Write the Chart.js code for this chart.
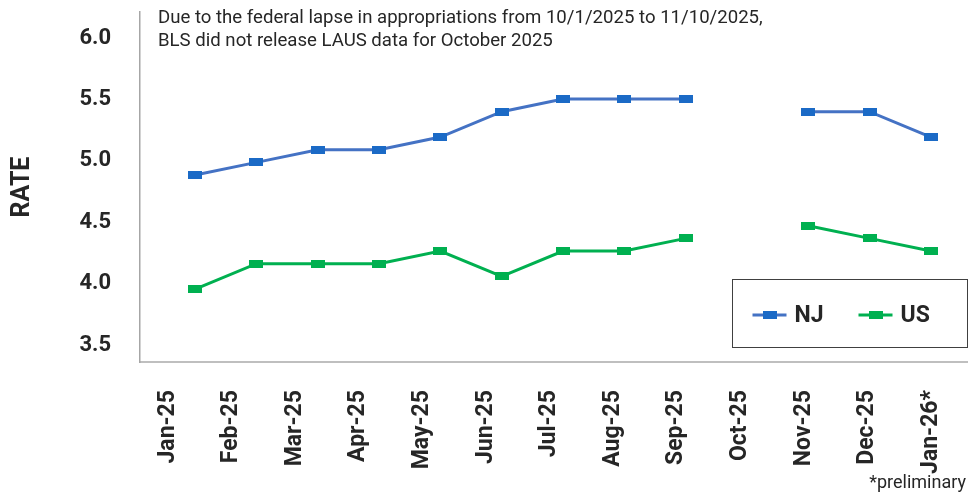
<!DOCTYPE html>
<html>
<head>
<meta charset="utf-8">
<script src="https://cdn.jsdelivr.net/npm/chart.js@4/dist/chart.umd.min.js"></script>
<style>
  body { margin: 0; background: #fff; }
  #wrap { position: relative; width: 968px; height: 495px; font-family: Roboto, sans-serif; color: #262626; }
  #note { position: absolute; left: 158px; top: 6px; font-size: 18.6px; line-height: 23px; }
  #prelim { position: absolute; right: 2px; top: 471px; font-size: 18px; }
</style>
</head>
<body>
<div id="wrap">
  <canvas id="rateChart" width="968" height="495"></canvas>
  <div id="note">Due to the federal lapse in appropriations from 10/1/2025 to 11/10/2025,<br>BLS did not release LAUS data for October 2025</div>
  <div id="prelim">*preliminary</div>
</div>
<script>
// Monthly unemployment rate, NJ vs US (Oct-25 not released)
const months = ['Jan-25', 'Feb-25', 'Mar-25', 'Apr-25', 'May-25', 'Jun-25', 'Jul-25',
                'Aug-25', 'Sep-25', 'Oct-25', 'Nov-25', 'Dec-25', 'Jan-26*'];
const njRate = [4.9, 5.0, 5.1, 5.1, 5.2, 5.4, 5.5, 5.5, 5.5, null, 5.4, 5.4, 5.2];
const usRate = [4.0, 4.2, 4.2, 4.2, 4.3, 4.1, 4.3, 4.3, 4.4, null, 4.5, 4.4, 4.3];
const rateTicks = [3.5, 4.0, 4.5, 5.0, 5.5, 6.0];

const NJ_LINE = '#4472C4', NJ_MARK = '#1B6AC6';
const US_LINE = '#00B050', US_MARK = '#00B050';

// wide flat square marker like the Excel one
function makeMarker(color) {
    const c = document.createElement('canvas');
    c.width = 14;
    c.height = 8;
    const g = c.getContext('2d');
    g.fillStyle = color;
    g.fillRect(0, 0, 14, 8);
    return c;
}
const njMarker = makeMarker(NJ_MARK);
const usMarker = makeMarker(US_MARK);

// legend box drawn inside the plot, bottom right
const boxLegend = {
    id: 'boxLegend',
    afterDraw(chart) {
        const ctx = chart.ctx;
        const area = chart.chartArea;
        const right = area.right - 0.5, bottom = area.bottom - 15;
        const x0 = right - 235, y0 = bottom - 68;
        ctx.save();
        ctx.strokeStyle = '#404040';
        ctx.lineWidth = 1;
        ctx.strokeRect(Math.round(x0) + 0.5, Math.round(y0) + 0.5, 235, 68);
        const cy = y0 + 36;
        ctx.font = 'bold 23px Roboto';
        ctx.textBaseline = 'middle';
        let x = x0 + 21;
        chart.data.datasets.forEach(ds => {
            ctx.strokeStyle = ds.borderColor;
            ctx.lineWidth = 3;
            ctx.beginPath();
            ctx.moveTo(x, cy);
            ctx.lineTo(x + 34, cy);
            ctx.stroke();
            ctx.drawImage(ds.pointStyle, x + 10, cy - 4);
            ctx.fillStyle = '#262626';
            ctx.fillText(ds.label, x + 42, cy + 1);
            x += 106;
        });
        ctx.restore();
    }
};

function toPoints(arr) {
    return arr.map((v, i) => ({ x: i, y: v }));
}

// drop the extra room Chart.js keeps for edge labels
function noEdgePadding(scale) {
    scale.paddingLeft = 0;
    scale.paddingRight = 0;
    scale.paddingTop = 0;
    scale.paddingBottom = 0;
}

document.addEventListener('DOMContentLoaded', function() {
    const ctx = document.getElementById('rateChart').getContext('2d');
    new Chart(ctx, {
        type: 'line',
        data: {
            labels: months,
            datasets: [{
                label: 'NJ',
                data: toPoints(njRate),
                xAxisID: 'x2',
                yAxisID: 'y2',
                borderColor: NJ_LINE,
                borderWidth: 3,
                pointStyle: njMarker,
                pointRadius: 7,
                tension: 0
            }, {
                label: 'US',
                data: toPoints(usRate),
                xAxisID: 'x2',
                yAxisID: 'y2',
                borderColor: US_LINE,
                borderWidth: 3,
                pointStyle: usMarker,
                pointRadius: 7,
                tension: 0
            }]
        },
        options: {
            responsive: false,
            animation: false,
            layout: { autoPadding: false, padding: { top: 12, right: 1, left: 0, bottom: 0 } },
            plugins: {
                legend: { display: false },
                tooltip: { enabled: false }
            },
            scales: {
                x: {
                    type: 'category',
                    position: 'bottom',
                    offset: true,
                    grid: { display: false },
                    border: { color: '#BFBFBF', width: 2 },
                    ticks: {
                        minRotation: 90,
                        maxRotation: 90,
                        padding: 20,
                        labelOffset: -4,
                        color: '#262626',
                        font: { family: 'Roboto', size: 23, weight: 'bold' }
                    },
                    afterFit(scale) {
                        scale.height = 133;
                        noEdgePadding(scale);
                    }
                },
                x2: {
                    type: 'linear',
                    position: 'bottom',
                    display: false,
                    min: -0.9,
                    max: 12.59
                },
                y: {
                    min: 3.362,
                    max: 6.212,
                    grid: { display: false },
                    border: { color: '#A6A6A6', width: 1.5 },
                    afterBuildTicks(scale) {
                        scale.ticks = rateTicks.map(v => ({ value: v }));
                    },
                    ticks: {
                        padding: 21,
                        color: '#262626',
                        font: { family: 'Roboto', size: 22, weight: 'bold' },
                        callback: v => v.toFixed(1)
                    },
                    title: {
                        display: true,
                        text: 'RATE',
                        color: '#262626',
                        padding: { top: 8, bottom: 0 },
                        font: { family: 'Roboto', size: 25, weight: 'bold' }
                    },
                    afterFit(scale) {
                        scale.width = 140;
                        noEdgePadding(scale);
                    }
                },
                y2: {
                    type: 'linear',
                    position: 'left',
                    display: false,
                    min: 3.4245,
                    max: 6.1867
                }
            }
        },
        plugins: [boxLegend]
    });
});
</script>
</body>
</html>
